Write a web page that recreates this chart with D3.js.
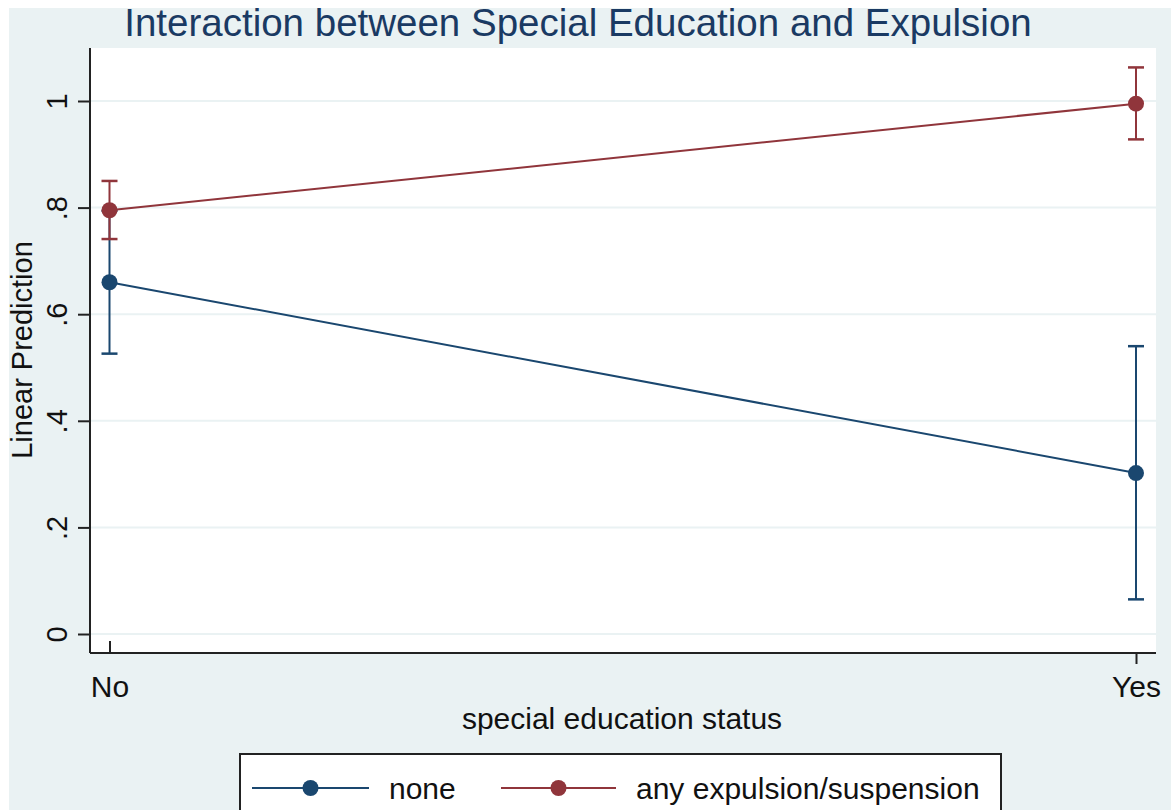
<!DOCTYPE html>
<html>
<head>
<meta charset="utf-8">
<script src="https://cdn.jsdelivr.net/npm/d3@7"></script>
<style>
  body { margin: 0; background: #fff; }
  svg { display: block; }
</style>
</head>
<body>
<svg id="chart" width="1171" height="810"></svg>
<script>
const categories = ['No', 'Yes'];
const seriesNames = ['none', 'any expulsion/suspension'];
const noneMean = [0.66, 0.302];
const noneLow = [0.526, 0.065];
const noneHigh = [0.794, 0.54];
const expMean = [0.795, 0.995];
const expLow = [0.741, 0.928];
const expHigh = [0.85, 1.063];
const yTicks = [0, 0.2, 0.4, 0.6, 0.8, 1];
const yTickLabels = ['0', '.2', '.4', '.6', '.8', '1'];

const colors = ['#1a476f', '#90353b'];
const font = "'Liberation Sans', Arial, sans-serif";

const series = [
  { name: seriesNames[0], mean: noneMean, low: noneLow, high: noneHigh },
  { name: seriesNames[1], mean: expMean, low: expLow, high: expHigh },
];

const svg = d3.select('#chart');

// stata-ish outer frame
svg.append('rect')
  .attr('x', 9).attr('y', 8)
  .attr('width', 1171 - 9).attr('height', 810 - 8)
  .attr('fill', '#eaf2f3');

const plot = { left: 90, top: 48, right: 1156, bottom: 653 };

svg.append('rect')
  .attr('x', plot.left).attr('y', plot.top)
  .attr('width', plot.right - plot.left).attr('height', plot.bottom - plot.top)
  .attr('fill', '#fff');

const y = d3.scaleLinear().domain([0, 1]).range([634, 101]);
const x = d3.scalePoint().domain(categories).range([109.5, 1136]);

// gridlines
svg.append('g')
  .selectAll('line')
  .data(yTicks)
  .join('line')
  .attr('x1', plot.left).attr('x2', plot.right)
  .attr('y1', (d) => y(d)).attr('y2', (d) => y(d))
  .attr('stroke', '#eaf2f3')
  .attr('stroke-width', 2);

// y axis
const yAxis = svg.append('g')
  .attr('transform', `translate(${plot.left},0)`)
  .call(d3.axisLeft(y).tickValues(yTicks).tickSize(12)
    .tickFormat((d, i) => yTickLabels[i]));
yAxis.select('.domain')
  .attr('d', `M0,${plot.top}V${plot.bottom}`)
  .attr('stroke', '#222').attr('stroke-width', 2);
yAxis.selectAll('.tick line').attr('stroke', '#222').attr('stroke-width', 2);
yAxis.selectAll('.tick text')
  .attr('x', null).attr('dy', null)
  .attr('transform', 'translate(-23,0) rotate(-90)')
  .attr('text-anchor', 'middle')
  .style('font', `29px ${font}`)
  .attr('fill', '#111');

// x axis
const xAxis = svg.append('g')
  .attr('transform', `translate(0,${plot.bottom})`)
  .call(d3.axisBottom(x).tickSize(11).tickPadding(12));
xAxis.select('.domain')
  .attr('d', `M${plot.left},0H${plot.right}`)
  .attr('stroke', '#222').attr('stroke-width', 2);
xAxis.selectAll('.tick line')
  .attr('stroke', '#222').attr('stroke-width', 2)
  .attr('y2', (d, i) => (i === 0 ? -12 : 11));
xAxis.selectAll('.tick text')
  .style('font', `30px ${font}`)
  .attr('fill', '#111');

// axis titles
svg.append('text')
  .attr('transform', 'translate(32,350) rotate(-90)')
  .attr('text-anchor', 'middle')
  .style('font', `29px ${font}`)
  .attr('fill', '#111')
  .text('Linear Prediction');

svg.append('text')
  .attr('x', 622).attr('y', 729)
  .attr('text-anchor', 'middle')
  .style('font', `30px ${font}`)
  .attr('fill', '#111')
  .text('special education status');

// title
svg.append('text')
  .attr('x', 578).attr('y', 36)
  .attr('text-anchor', 'middle')
  .style('font', `38.5px ${font}`)
  .attr('fill', '#1a3a63')
  .text('Interaction between Special Education and Expulsion');

// series
const line = d3.line()
  .x((d, i) => x(categories[i]))
  .y((d) => y(d));

series.forEach((s, si) => {
  const g = svg.append('g');
  g.append('path')
    .datum(s.mean)
    .attr('d', line)
    .attr('fill', 'none')
    .attr('stroke', colors[si])
    .attr('stroke-width', 2);

  const bars = g.selectAll('g.bar')
    .data(categories)
    .join('g')
    .attr('class', 'bar');
  bars.append('line')
    .attr('x1', (d) => x(d)).attr('x2', (d) => x(d))
    .attr('y1', (d, i) => y(s.low[i])).attr('y2', (d, i) => y(s.high[i]))
    .attr('stroke', colors[si]).attr('stroke-width', 2);
  [s.low, s.high].forEach((arr) => {
    bars.append('line')
      .attr('x1', (d) => x(d) - 8).attr('x2', (d) => x(d) + 8)
      .attr('y1', (d, i) => y(arr[i])).attr('y2', (d, i) => y(arr[i]))
      .attr('stroke', colors[si]).attr('stroke-width', 2.5);
  });
  bars.append('circle')
    .attr('cx', (d) => x(d))
    .attr('cy', (d, i) => y(s.mean[i]))
    .attr('r', 8)
    .attr('fill', colors[si]);
});

// legend
const legend = svg.append('g');
legend.append('rect')
  .attr('x', 240).attr('y', 754)
  .attr('width', 761).attr('height', 60)
  .attr('fill', '#fff')
  .attr('stroke', '#222')
  .attr('stroke-width', 2);

const legendItems = [
  { x0: 252, x1: 369, tx: 389 },
  { x0: 501, x1: 616, tx: 636 },
];
legendItems.forEach((it, i) => {
  legend.append('line')
    .attr('x1', it.x0).attr('x2', it.x1)
    .attr('y1', 788).attr('y2', 788)
    .attr('stroke', colors[i]).attr('stroke-width', 2);
  legend.append('circle')
    .attr('cx', (it.x0 + it.x1) / 2).attr('cy', 788)
    .attr('r', 8).attr('fill', colors[i]);
  legend.append('text')
    .attr('x', it.tx).attr('y', 799)
    .style('font', `30px ${font}`)
    .attr('fill', '#111')
    .text(seriesNames[i]);
});
</script>
</body>
</html>
